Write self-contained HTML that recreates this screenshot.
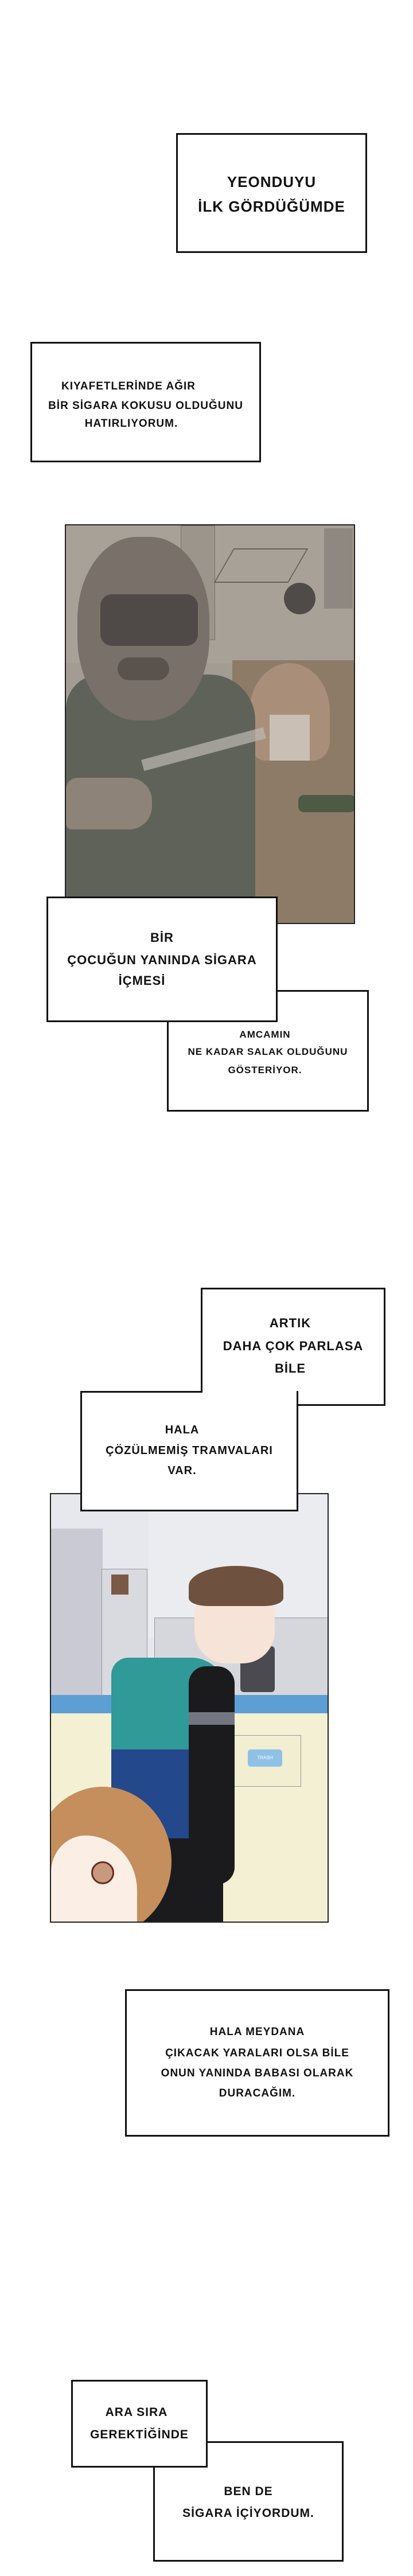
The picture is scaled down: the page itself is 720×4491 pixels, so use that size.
<!DOCTYPE html>
<html><head><meta charset="utf-8"><style>
*{margin:0;padding:0;box-sizing:border-box}
body{width:720px;height:4491px;background:#fff;position:relative;overflow:hidden;font-family:"Liberation Sans",sans-serif}
.b{position:absolute;border:3px solid #111;background:#fff}
.w{position:absolute;background:#fff}
.t{position:absolute;text-align:center;font-weight:bold;color:#111;white-space:nowrap;letter-spacing:1px}
.a{position:absolute}
</style></head><body>

<!-- Box 1 -->
<div class="b" style="left:307px;top:232px;width:333px;height:209px"></div>
<div class="t" style="left:307px;width:333px;top:302px;font-size:26px;line-height:30px">YEONDUYU</div>
<div class="t" style="left:307px;width:333px;top:345px;font-size:26px;line-height:30px">İLK GÖRDÜĞÜMDE</div>

<!-- Box 2 -->
<div class="b" style="left:53px;top:596px;width:402px;height:210px"></div>
<div class="t" style="left:53px;width:402px;top:662px;font-size:19px;line-height:24px;padding-right:60px">KIYAFETLERİNDE AĞIR</div>
<div class="t" style="left:53px;width:402px;top:696px;font-size:19px;line-height:24px">BİR SİGARA KOKUSU OLDUĞUNU</div>
<div class="t" style="left:53px;width:402px;top:727px;font-size:19px;line-height:24px;padding-right:50px">HATIRLIYORUM.</div>

<!-- Panel 1 -->
<div class="a" style="left:113px;top:914px;width:506px;height:697px;border:2px solid #222;background:#a39c92;overflow:hidden">
  <div class="a" style="left:0;top:0;width:506px;height:240px;background:#a8a197"></div>
  <div class="a" style="left:290px;top:235px;width:220px;height:470px;background:#8e7b67"></div>
  <div class="a" style="left:200px;top:0;width:60px;height:200px;background:#9c958c;border:1px solid #7a736b"></div>
  <div class="a" style="left:275px;top:40px;width:130px;height:60px;border:2px solid #6b5f55;transform:skewX(-30deg)"></div>
  <div class="a" style="left:380px;top:100px;width:55px;height:55px;border-radius:50%;background:#4e4b48"></div>
  <div class="a" style="left:450px;top:5px;width:50px;height:140px;background:#8f8880"></div>
  <div class="a" style="left:320px;top:240px;width:140px;height:170px;border-radius:50% 50% 20% 20%;background:#a98f79"></div>
  <div class="a" style="left:355px;top:330px;width:70px;height:80px;background:#c9bfb4"></div>
  <div class="a" style="left:405px;top:470px;width:100px;height:30px;border-radius:10px;background:#4d5a45"></div>
  <div class="a" style="left:0;top:260px;width:330px;height:440px;background:#5f6259;border-radius:60px 80px 0 0"></div>
  <div class="a" style="left:20px;top:20px;width:230px;height:320px;border-radius:45%;background:#787069"></div>
  <div class="a" style="left:60px;top:120px;width:170px;height:90px;background:#4f4a47;border-radius:20px"></div>
  <div class="a" style="left:90px;top:230px;width:90px;height:40px;background:#5a524c;border-radius:30px"></div>
  <div class="a" style="left:0;top:440px;width:150px;height:90px;background:#8d8378;border-radius:20px 40px 40px 10px"></div>
  <div class="a" style="left:130px;top:380px;width:220px;height:20px;background:#bdb9b2;opacity:.7;transform:rotate(-15deg)"></div>
</div>

<!-- Box A & B -->
<div class="b" style="left:291px;top:1726px;width:352px;height:212px"></div>
<div class="b" style="left:81px;top:1563px;width:403px;height:219px"></div>
<div class="w" style="left:294px;top:1729px;width:187px;height:50px"></div>
<div class="t" style="left:81px;width:403px;top:1621px;font-size:22px;line-height:28px">BİR</div>
<div class="t" style="left:81px;width:403px;top:1660px;font-size:22px;line-height:28px">ÇOCUĞUN YANINDA SİGARA</div>
<div class="t" style="left:81px;width:403px;top:1696px;font-size:22px;line-height:28px;padding-right:70px">İÇMESİ</div>
<div class="t" style="left:291px;width:352px;top:1793px;font-size:17px;line-height:22px;padding-right:10px">AMCAMIN</div>
<div class="t" style="left:291px;width:352px;top:1823px;font-size:17px;line-height:22px">NE KADAR SALAK OLDUĞUNU</div>
<div class="t" style="left:291px;width:352px;top:1855px;font-size:17px;line-height:22px;padding-right:10px">GÖSTERİYOR.</div>

<!-- Panel 2 -->
<div class="a" style="left:87px;top:2603px;width:486px;height:749px;border:2px solid #222;background:#e7e8ed;overflow:hidden">
  <div class="a" style="left:170px;top:0;width:320px;height:250px;background:#ebecf0"></div>
  <div class="a" style="left:0;top:60px;width:90px;height:300px;background:#c9cad3"></div>
  <div class="a" style="left:88px;top:130px;width:80px;height:230px;background:#d9dadf;border:1px solid #999"></div>
  <div class="a" style="left:105px;top:140px;width:30px;height:35px;background:#7a5a45"></div>
  <div class="a" style="left:180px;top:215px;width:306px;height:140px;background:#d6d7dc;border:1px solid #999"></div>
  <div class="a" style="left:330px;top:265px;width:60px;height:80px;background:#4a4a50;border-radius:6px"></div>
  <div class="a" style="left:0;top:350px;width:486px;height:32px;background:#5d9fd4"></div>
  <div class="a" style="left:0;top:382px;width:486px;height:370px;background:#f3f0d4"></div>
  <div class="a" style="left:316px;top:420px;width:120px;height:90px;border:1px solid #999;background:#f1eed2"></div>
  <div class="a" style="left:343px;top:445px;width:60px;height:30px;border-radius:5px;background:#8fc1e6;color:#fff;font-size:8px;line-height:30px;text-align:center">TRASH</div>
  <div class="a" style="left:105px;top:285px;width:200px;height:180px;background:#2f9a98;border-radius:30px 60px 0 0"></div>
  <div class="a" style="left:105px;top:445px;width:190px;height:200px;background:#23488c"></div>
  <div class="a" style="left:240px;top:300px;width:80px;height:380px;background:#1b1b1e;border-radius:30px"></div>
  <div class="a" style="left:240px;top:380px;width:80px;height:22px;background:#737680"></div>
  <div class="a" style="left:150px;top:600px;width:150px;height:150px;background:#1b1b1e"></div>
  <div class="a" style="left:250px;top:155px;width:140px;height:140px;background:#f6e4d8;border-radius:40%"></div>
  <div class="a" style="left:240px;top:125px;width:165px;height:70px;background:#6e523f;border-radius:50% 50% 20% 20%"></div>
  <div class="a" style="left:-30px;top:510px;width:240px;height:260px;background:#c48f5c;border-radius:50%"></div>
  <div class="a" style="left:0;top:595px;width:150px;height:160px;background:#fbefe5;border-radius:40% 60% 0 0"></div>
  <div class="a" style="left:70px;top:640px;width:40px;height:40px;background:#c79a80;border:3px solid #6a2c1f;border-radius:50%"></div>
</div>

<!-- Box C & D -->
<div class="b" style="left:350px;top:2245px;width:322px;height:206px"></div>
<div class="b" style="left:140px;top:2425px;width:380px;height:210px"></div>
<div class="w" style="left:353px;top:2248px;width:316px;height:177px"></div>
<div class="w" style="left:353px;top:2420px;width:164px;height:8px"></div>
<div class="t" style="left:350px;width:322px;top:2293px;font-size:22px;line-height:28px;padding-right:10px">ARTIK</div>
<div class="t" style="left:350px;width:322px;top:2333px;font-size:22px;line-height:28px">DAHA ÇOK PARLASA</div>
<div class="t" style="left:350px;width:322px;top:2372px;font-size:22px;line-height:28px;padding-right:10px">BİLE</div>
<div class="t" style="left:140px;width:380px;top:2479px;font-size:20px;line-height:28px;padding-right:25px">HALA</div>
<div class="t" style="left:140px;width:380px;top:2515px;font-size:20px;line-height:28px">ÇÖZÜLMEMİŞ TRAMVALARI</div>
<div class="t" style="left:140px;width:380px;top:2550px;font-size:20px;line-height:28px;padding-right:25px">VAR.</div>

<!-- Box E -->
<div class="b" style="left:218px;top:3468px;width:461px;height:257px"></div>
<div class="t" style="left:218px;width:461px;top:3530px;font-size:19px;line-height:26px">HALA MEYDANA</div>
<div class="t" style="left:218px;width:461px;top:3567px;font-size:19px;line-height:26px">ÇIKACAK YARALARI OLSA BİLE</div>
<div class="t" style="left:218px;width:461px;top:3602px;font-size:19px;line-height:26px">ONUN YANINDA BABASI OLARAK</div>
<div class="t" style="left:218px;width:461px;top:3637px;font-size:19px;line-height:26px">DURACAĞIM.</div>

<!-- Box F & G -->
<div class="b" style="left:267px;top:4256px;width:332px;height:210px"></div>
<div class="b" style="left:124px;top:4149px;width:238px;height:153px"></div>
<div class="w" style="left:270px;top:4259px;width:89px;height:40px"></div>
<div class="t" style="left:124px;width:238px;top:4192px;font-size:21px;line-height:28px;padding-right:10px">ARA SIRA</div>
<div class="t" style="left:124px;width:238px;top:4231px;font-size:21px;line-height:28px">GEREKTİĞİNDE</div>
<div class="t" style="left:267px;width:332px;top:4330px;font-size:21px;line-height:28px">BEN DE</div>
<div class="t" style="left:267px;width:332px;top:4368px;font-size:21px;line-height:28px">SİGARA İÇİYORDUM.</div>

</body></html>
